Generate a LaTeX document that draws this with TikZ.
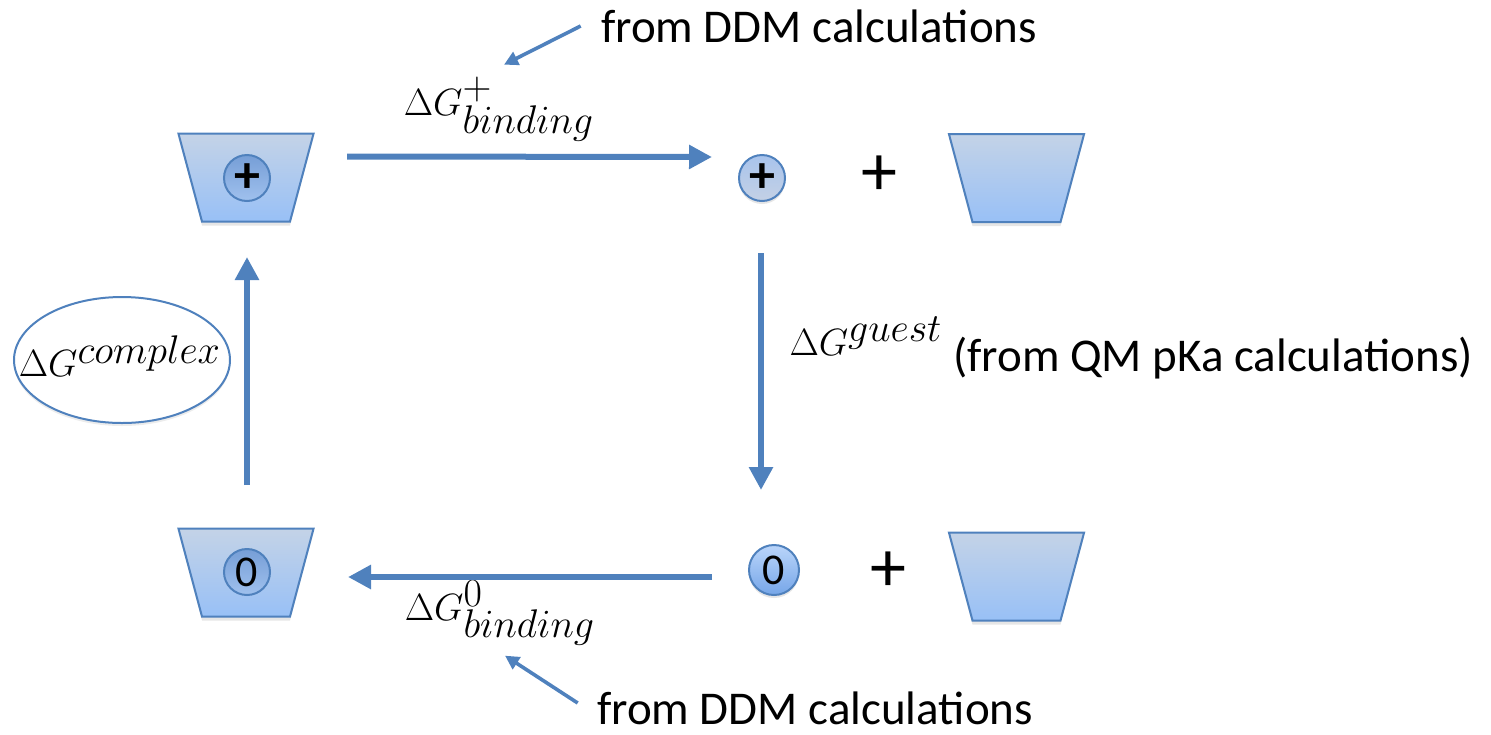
\RequirePackage{fix-cm}
\documentclass[tikz,border=0pt]{standalone}
\usepackage{fontspec}
\setmainfont{Carlito}
\usetikzlibrary{arrows.meta,shapes.geometric,shadows,calc}
\newcommand{\idx}[1]{\mbox{\fontsize{20}{24}\selectfont$#1$}}

\definecolor{arrowblue}{RGB}{79,129,189}
\definecolor{cuptop}{RGB}{196,211,231}
\definecolor{cupbot}{RGB}{152,192,246}
\definecolor{iontop}{RGB}{118,158,214}
\definecolor{ionbot}{RGB}{160,193,238}
\definecolor{freetop}{RGB}{168,195,236}
\definecolor{freebot}{RGB}{196,209,229}
\definecolor{neuttop}{RGB}{186,213,250}
\definecolor{neutbot}{RGB}{118,166,232}

\begin{document}
\begin{tikzpicture}[
  x=0.5pt, y=-0.5pt,
  font=\fontsize{23.5}{28}\selectfont,
  >={Triangle[length=11.5pt, width=11.5pt]},
  cup/.style={trapezium, shape border rotate=180, trapezium left angle=75, trapezium right angle=75,
              inner xsep=22pt, inner ysep=22pt, minimum size=0pt,
              draw=arrowblue, line width=1pt, top color=cuptop, bottom color=cupbot,
              drop shadow={shadow xshift=0pt, shadow yshift=-2pt, opacity=.2}},
  ion/.style={circle, draw=arrowblue, line width=1pt, inner sep=0pt, minimum size=23pt,
              top color=iontop, bottom color=ionbot, font=\fontsize{22}{26}\selectfont},
  ionfree/.style={ion, top color=freetop, bottom color=freebot,
              drop shadow={shadow xshift=0pt, shadow yshift=-1.5pt, opacity=.2}},
  neutfree/.style={ion, minimum size=25pt, top color=neuttop, bottom color=neutbot,
              drop shadow={shadow xshift=0pt, shadow yshift=-1.5pt, opacity=.2}},
  chg/.style={font=\fontsize{26}{30}\selectfont\bfseries},
  pluslbl/.style={inner sep=0pt, font=\fontsize{36}{40}\selectfont},
  eqlbl/.style={inner sep=0pt, font=\fontsize{19}{23}\selectfont},
  txt/.style={inner sep=0pt},
  flow/.style={->, line width=3pt, arrowblue},
  note/.style={-{Triangle[length=7pt, width=7pt]}, line width=1.8pt, arrowblue},
]
\useasboundingbox (0,0) rectangle (1491,734);

% ---- host-guest complexes (left) ------------------------------------------
\node[cup] (hostp) at (246,177.5) {};
\node[ion, chg] (innerp) at (247,178) {+};
\node[cup] (hostz) at (246,572.5) {};
\node[ion] (innerz) at (247,572) {0};

% ---- free guest + empty host (right) --------------------------------------
\node[ionfree, chg] (guestp) at (762,178) {+};
\node[pluslbl] (sump) at (879,176) {+};
\node[cup] (freep) at (1016.5,178) {};
\node[neutfree] (guestz) at (774,570) {0};
\node[pluslbl] (sumz) at (888,572) {+};
\node[cup] (freez) at (1016.5,576.5) {};

% ---- free energy labels -----------------------------------------------------
\node[eqlbl] (bindp) at (499,109) {$\Delta G^{\idx{+}}_{\idx{binding}}$};
\node[eqlbl] (bindz) at (500,613) {$\Delta G^{\idx{0}}_{\idx{binding}}$};
\node[eqlbl] (dgguest) at (866,336) {$\Delta G^{\idx{guest}}$};
\node[txt] (qmnote) at (1213,358) {(from QM pKa calculations)};
\node[ellipse, draw=arrowblue, line width=1pt, fill=white, minimum width=108pt, minimum height=63pt,
      drop shadow={shadow xshift=0pt, shadow yshift=-1.5pt, opacity=.15}] (cplxring) at (122,360) {};
\node[eqlbl] (dgcplx) at (120,356) {$\Delta G^{\idx{complex}}$};
\node[txt] (ddmtop) at (819,26) {from DDM calculations};
\node[txt] (ddmbot) at (815,708) {from DDM calculations};

% ---- thermodynamic cycle ------------------------------------------------------
\draw[flow] ($(hostp)+(101,-21)$) -- ($(guestp)+(-50,-21)$);
\draw[flow] ($(guestp)+(-1,75)$) -- ($(guestz)+(-13,-80)$);
\draw[flow] ($(guestz)+(-62,7)$) -- ($(hostz)+(102,4.5)$);
\draw[flow] ($(hostz)+(1,-87.5)$) -- ($(hostp)+(1,79.5)$);

% ---- pointers to the source of each value ---------------------------------------
\draw[note] ($(ddmtop.west)+(-20,0)$) -- ($(bindp.north)+(5,-12)$);
\draw[note] ($(ddmbot.west)+(-19,-5)$) -- ($(bindz.south)+(5,10)$);

\end{tikzpicture}
\end{document}
